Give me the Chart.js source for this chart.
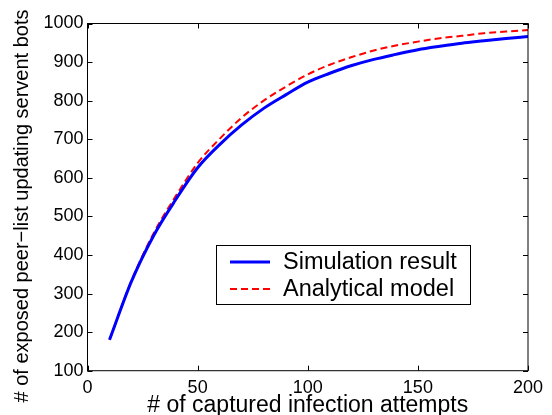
<!DOCTYPE html>
<html>
<head>
<meta charset="utf-8">
<script src="https://cdn.jsdelivr.net/npm/chart.js@4/dist/chart.umd.min.js"></script>
<style>
  html, body { margin: 0; padding: 0; background: #fff; }
  canvas { display: block; }
</style>
</head>
<body>
<canvas id="botChart" width="552" height="415"></canvas>
<script>
// captured infection attempts (x) and exposed servent bots (y)
const attempts = [10, 20, 30, 40, 50, 60, 70, 80, 90, 100, 110, 120, 130, 140, 150, 160, 170, 180, 190, 200];
const simulation = [180, 332, 450, 543, 626, 686, 737, 780, 815, 848, 871, 891, 907, 920, 932, 941, 949, 955, 961, 966];
const analytical = [180, 334, 456, 552, 638, 701, 756, 800, 836, 868, 893, 913, 930, 943, 953, 962, 968, 975, 979, 983];
const seriesNames = ['Simulation result', 'Analytical model'];
const yTitle = '# of exposed peer\u2212list updating servent bots';

const FONT = 'Liberation Sans, Arial, Helvetica, sans-serif';

function toPoints(ys) {
    return attempts.map((x, i) => ({ x: x, y: ys[i] }));
}

// box round the plot with inward ticks on all four sides, plus the y title
const framePlugin = {
    id: 'frame',
    afterDraw(chart) {
        const { ctx, chartArea: a, scales } = chart;
        const len = 5;
        ctx.save();
        ctx.strokeStyle = '#000';
        ctx.lineWidth = 1;
        ctx.strokeRect(a.left, a.top, a.right - a.left, a.bottom - a.top);
        ctx.beginPath();
        scales.x.ticks.forEach(t => {
            const px = Math.round(scales.x.getPixelForValue(t.value)) + 0.5;
            ctx.moveTo(px, a.bottom); ctx.lineTo(px, a.bottom - len);
            ctx.moveTo(px, a.top); ctx.lineTo(px, a.top + len);
        });
        scales.y.ticks.forEach(t => {
            const py = Math.round(scales.y.getPixelForValue(t.value)) + 0.5;
            ctx.moveTo(a.left, py); ctx.lineTo(a.left + len, py);
            ctx.moveTo(a.right, py); ctx.lineTo(a.right - len, py);
        });
        ctx.stroke();

        ctx.translate(22, 206);
        ctx.rotate(-Math.PI / 2);
        ctx.font = '20px ' + FONT;
        ctx.fillStyle = '#000';
        ctx.textAlign = 'center';
        ctx.textBaseline = 'middle';
        ctx.fillText(yTitle, 0, 0);
        ctx.restore();
    }
};

// boxed legend inside the plot, lower middle
const legendBoxPlugin = {
    id: 'legendBox',
    afterDraw(chart) {
        const ctx = chart.ctx;
        const box = { x: 216.5, y: 245.5, w: 254, h: 59 };
        ctx.save();
        ctx.fillStyle = '#fff';
        ctx.fillRect(box.x, box.y, box.w, box.h);
        ctx.strokeStyle = '#000';
        ctx.lineWidth = 1;
        ctx.strokeRect(box.x, box.y, box.w, box.h);
        ctx.font = '23.5px ' + FONT;
        ctx.textBaseline = 'middle';
        ctx.fillStyle = '#000';
        chart.data.datasets.forEach((ds, i) => {
            const ly = 262 + i * 27;
            ctx.beginPath();
            ctx.strokeStyle = ds.borderColor;
            ctx.lineWidth = ds.borderWidth;
            ctx.setLineDash(ds.borderDash || []);
            ctx.moveTo(230, ly);
            ctx.lineTo(270, ly);
            ctx.stroke();
            ctx.setLineDash([]);
            ctx.fillText(ds.label, 283, ly + 1);
        });
        ctx.restore();
    }
};

const ctx = document.getElementById('botChart').getContext('2d');
const botChart = new Chart(ctx, {
    type: 'line',
    data: {
        datasets: [{
            label: seriesNames[0],
            data: toPoints(simulation),
            borderColor: '#0000ff',
            borderWidth: 3,
            pointRadius: 0,
            cubicInterpolationMode: 'monotone',
            fill: false
        }, {
            label: seriesNames[1],
            data: toPoints(analytical),
            borderColor: '#ff0000',
            borderWidth: 2,
            borderDash: [7, 4],
            pointRadius: 0,
            cubicInterpolationMode: 'monotone',
            fill: false
        }]
    },
    options: {
        responsive: false,
        animation: false,
        layout: { padding: { top: 23.5, right: 24, left: 0, bottom: 0 } },
        plugins: {
            legend: { display: false },
            tooltip: { enabled: false }
        },
        scales: {
            x: {
                type: 'linear',
                min: 0,
                max: 200,
                grid: { display: false, drawTicks: false },
                border: { display: false },
                ticks: {
                    stepSize: 50,
                    maxRotation: 0,
                    padding: 7,
                    color: '#000',
                    font: { family: FONT, size: 18 },
                    callback: v => String(v)
                },
                title: {
                    display: true,
                    text: '# of captured infection attempts',
                    color: '#000',
                    padding: 0,
                    font: { family: FONT, size: 23, lineHeight: 0.85 }
                },
                afterFit(scale) { scale.height = 44.3; }
            },
            y: {
                min: 100,
                max: 1000,
                grid: { display: false, drawTicks: false },
                border: { display: false },
                ticks: {
                    stepSize: 100,
                    padding: 4,
                    color: '#000',
                    font: { family: FONT, size: 18 },
                    callback: v => String(v)
                },
                afterFit(scale) { scale.width = 87.5; }
            }
        }
    },
    plugins: [framePlugin, legendBoxPlugin]
});
</script>
</body>
</html>
